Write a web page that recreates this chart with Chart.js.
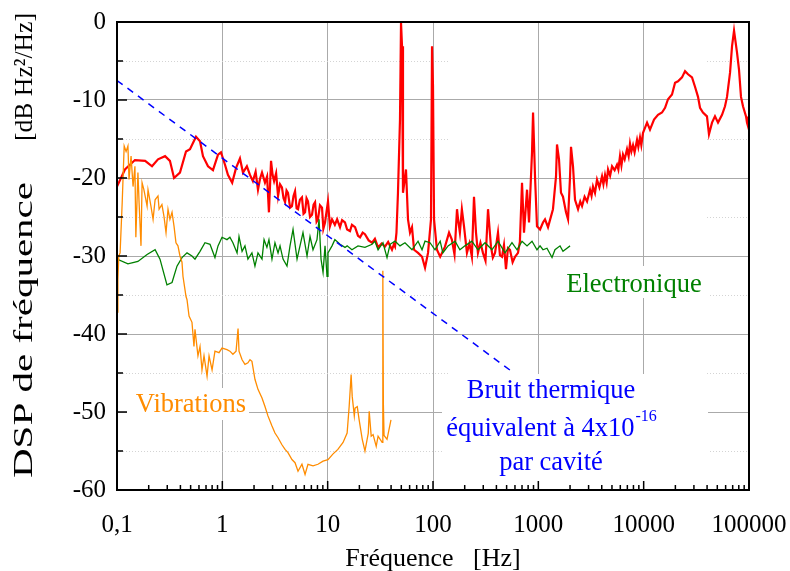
<!DOCTYPE html>
<html>
<head>
<meta charset="utf-8">
<script src="https://cdn.jsdelivr.net/npm/chart.js@4.4.0/dist/chart.umd.min.js"></script>
<style>
  html, body { margin: 0; padding: 0; background: #fff; }
  #chart { display: block; }
</style>
</head>
<body>
<canvas id="chart" width="790" height="571"></canvas>
<script>
// frequency noise of the laser (red)
var totalFreq = [0.1, 0.119, 0.148, 0.185, 0.215, 0.245, 0.286, 0.318, 0.348, 0.396, 0.452, 0.493, 0.562, 0.614, 0.655, 0.731, 0.815, 0.91, 0.971,
  1.06, 1.13, 1.24, 1.35, 1.47, 1.57, 1.71, 1.83, 1.95, 2.07, 2.18, 2.28, 2.38, 2.54, 2.66, 2.77, 2.9, 3.0, 3.1, 3.24, 3.38, 3.53, 3.68, 3.81, 3.94, 4.07, 4.2, 4.4, 4.58, 4.74, 4.9, 5.07, 5.23, 5.45, 5.7, 5.9, 6.1, 6.3, 6.5, 6.8, 7.1, 7.35, 7.59, 7.85, 8.09, 8.45, 8.84, 9.1, 9.44,
  10.07, 10.5, 11, 11.7, 12.3, 13.1, 13.7, 14.6, 15.3, 16.3, 17, 18.2, 19.4, 20.3, 21.5, 22.6, 24.5, 26.4, 28.1, 30.1, 32.5, 35, 37.5, 40.8, 42.5, 43.6, 45, 46.5, 48.6, 49.7, 50.8, 51.9, 55.4, 57.9, 60.5, 63.2, 66.1, 72.1, 78.7, 84, 89.7, 95.7, 97.9,
  100, 102.3, 109, 117, 130, 142, 151, 160, 169, 173, 180, 188, 197, 210, 222, 234, 245, 256, 267, 282, 298, 315, 333, 355, 370, 388, 414, 432, 452, 472, 493, 515, 538, 570, 601, 641, 668, 700, 731, 781, 816, 871, 891, 930, 971,
  1038, 1107, 1157, 1236, 1377, 1472, 1504, 1571, 1641, 1714, 1832, 1914, 2000, 2043, 2134, 2230, 2382, 2500, 2600, 2750, 2900, 3097, 3200, 3304, 3450, 3606, 3800, 4024, 4150, 4297, 4450, 4590, 4800, 5010, 5300, 5585, 5750, 5960, 6150, 6365, 6600, 6950, 7200, 7417, 7650, 7925, 8200, 8650, 8900, 9230, 9500, 9860,
  10770, 11480, 12540, 13680, 14930, 15960, 17030, 18580, 19860, 21180, 23120, 24710, 26370, 28780, 30720, 32810, 34270, 36560, 39900, 41690, 44560, 47540, 50800, 55460, 59190, 61830, 66070, 69020, 72100, 76910, 80370, 83950, 87700, 93700, 95700, 100000];
var totalDsp = [-21.1, -18.9, -17.7, -17.8, -18.5, -17.6, -17.2, -17.8, -20.0, -19.3, -16.6, -16.3, -14.7, -15.3, -17.2, -18.5, -19.0, -17.0, -16.7,
  -18.3, -19.6, -20.6, -18.7, -17.5, -19.3, -18.5, -19.6, -20.4, -19.2, -21.5, -20.1, -19.3, -20.6, -19.8, -24.4, -17.8, -19.6, -20.4, -19.4, -22.3, -20.8, -21.2, -22.6, -23.1, -21.6, -21.9, -23.8, -23.6, -22.3, -21.7, -23.9, -24.0, -22.8, -22.5, -24.6, -24.4, -22.6, -23.0, -25.0, -24.7, -23.4, -23.1, -25.6, -25.3, -23.5, -23.8, -26.5, -25.7,
  -23.0, -26.2, -25.3, -26.0, -25.3, -26.3, -25.4, -25.7, -26.6, -26.8, -26.0, -26.3, -27.4, -27.6, -27.0, -27.2, -28.0, -28.3, -27.8, -28.9, -28.4, -28.8, -28.2, -29.2, -28.5, -28.8, -27.0, -21.9, -12.5, -0.1, -3.1, -21.9, -18.9, -25.3, -27.0, -26.3, -29.2, -29.6, -30.1, -31.5, -29.6, -25.3, -3.1,
  -8.2, -25.3, -29.2, -30.1, -28.8, -27.0, -27.9, -29.8, -24.0, -25.3, -27.0, -24.0, -26.2, -29.6, -28.4, -30.1, -22.4, -27.0, -29.6, -28.3, -29.6, -30.6, -24.0, -28.8, -30.2, -29.6, -27.0, -29.9, -30.1, -28.6, -31.7, -29.0, -29.2, -30.8, -30.1, -29.6, -28.2, -20.6, -27.0, -21.5, -25.7, -16.7, -11.6, -19.8, -26.2,
  -26.6, -25.7, -25.3, -26.3, -24.0, -19.8, -15.7, -17.6, -21.9, -22.4, -24.4, -25.3, -19.8, -16.0, -18.5, -22.8, -24.0, -23.0, -23.6, -22.4, -23.0, -21.5, -22.3, -21.1, -21.9, -20.2, -21.2, -19.8, -20.8, -19.6, -20.6, -18.9, -19.7, -18.5, -19.0, -18.3, -18.9, -17.2, -18.4, -17.0, -17.6, -16.3, -17.2, -15.6, -16.6, -15.8, -16.7, -15.1, -16.0, -14.8, -15.8, -14.2,
  -12.9, -13.8, -12.5, -11.9, -11.6, -11.0, -9.9, -9.3, -7.8, -7.6, -7.1, -6.3, -6.7, -7.1, -8.3, -9.6, -11.0, -11.6, -12.1, -14.4, -12.9, -12.1, -12.9, -11.9, -10.8, -9.6, -6.5, -3.1, -1.1, -3.9, -6.1, -9.6, -10.8, -12.1, -12.9, -13.8];

// electronic noise floor (green)
var elecFreq = [0.1, 0.127, 0.158, 0.193, 0.23, 0.256, 0.298, 0.333, 0.371, 0.414, 0.462, 0.515, 0.55, 0.614, 0.684, 0.764, 0.851, 0.91, 0.993,
  1.107, 1.18, 1.26, 1.38, 1.44, 1.54, 1.64, 1.75, 1.91, 2.04, 2.18, 2.38, 2.49, 2.65, 2.77, 2.96, 3.16, 3.38, 3.53, 3.77, 4.11, 4.39, 4.69, 5.12, 5.46, 5.83, 6.37, 6.8, 7.26, 7.92, 8.28, 8.65, 9.04, 9.44, 9.86,
  10.07, 11, 11.7, 13.1, 14.6, 15.3, 17, 19.4, 22.6, 26.4, 28.1, 30.1, 33.5, 36.6, 39.1, 43.6, 48.6, 54.2, 63.2, 72.1, 78.7, 84, 93.7,
  104.5, 117, 124, 139, 162, 180, 201, 234, 267, 312, 363, 414, 483, 562, 628, 700, 781, 871, 971, 1038, 1107, 1208, 1349, 1439, 1607, 1714, 1871, 2000];
var elecDsp = [-30.4, -31.0, -30.7, -29.8, -29.2, -30.4, -33.7, -33.4, -31.3, -30.2, -29.6, -30.0, -30.4, -29.4, -28.3, -28.5, -30.2, -28.7, -27.6,
  -27.9, -27.6, -28.3, -29.6, -27.5, -29.4, -28.7, -30.4, -29.6, -31.3, -29.6, -30.4, -27.9, -28.9, -27.9, -30.4, -28.3, -29.6, -28.7, -30.4, -31.3, -28.7, -26.6, -30.4, -28.7, -27.0, -30.0, -27.5, -29.2, -27.9, -25.3, -30.4, -32.1, -28.7, -32.6,
  -29.6, -28.7, -27.9, -28.5, -28.9, -28.7, -29.2, -28.7, -28.9, -28.5, -28.1, -29.2, -28.3, -30.2, -28.5, -28.1, -28.7, -28.3, -29.2, -28.1, -29.2, -28.1, -28.3,
  -29.2, -28.1, -29.6, -28.7, -28.1, -29.2, -28.7, -28.1, -29.2, -28.3, -29.2, -28.1, -29.6, -28.3, -29.2, -28.1, -28.7, -28.1, -29.2, -28.7, -29.2, -29.0, -30.2, -29.2, -28.7, -29.4, -29.0, -28.7];

// seismic / acoustic vibrations (orange)
var vibFreq = [0.1, 0.102, 0.104, 0.107, 0.112, 0.117, 0.122, 0.127, 0.13, 0.136, 0.142, 0.148, 0.151, 0.158, 0.162, 0.169, 0.173, 0.18, 0.193, 0.197,
  0.21, 0.22, 0.23, 0.245, 0.251, 0.267, 0.279, 0.292, 0.305, 0.318, 0.333, 0.348, 0.363, 0.379, 0.396, 0.414, 0.423, 0.452, 0.462, 0.483, 0.515, 0.538, 0.55, 0.587,
  0.614, 0.641, 0.67, 0.716, 0.748, 0.799, 0.851, 0.93, 0.993, 1.107, 1.18, 1.26, 1.35, 1.41, 1.44, 1.54, 1.64, 1.75, 1.83, 1.91, 2.04, 2.18, 2.38, 2.54, 2.71, 2.96,
  3.16, 3.38, 3.68, 3.94, 4.2, 4.58, 4.9, 5.23, 5.7, 6.1, 6.5, 7.26, 8.09, 9.04, 10.07, 11.2, 12.5, 14, 15.3, 16, 16.7, 17.1, 17.9, 18.2, 19.1, 19.9,
  21.3, 22.6, 24.3, 24.8, 25.9, 27, 28.9, 30.1, 32.9, 33.3, 33.5, 33.8, 34.3, 36.6, 39.9];
var vibDsp = [-37.2, -33.0, -30.0, -29.6, -23.2, -15.9, -16.6, -15.9, -20.2, -17.2, -21.1, -18.5, -27.6, -19.3, -23.1, -28.7, -20.6, -21.5, -23.6, -21.5,
  -23.6, -25.3, -22.8, -22.3, -24.0, -23.4, -24.9, -27.0, -24.0, -25.3, -24.4, -26.2, -28.3, -28.7, -30.0, -30.8, -32.6, -35.2, -35.6, -37.7, -38.5, -41.6, -39.4, -42.8,
  -41.6, -44.6, -42.8, -45.4, -42.8, -44.6, -42.2, -42.4, -41.8, -42.0, -42.2, -42.6, -42.2, -39.3, -42.2, -43.3, -43.9, -43.7, -43.3, -43.5, -45.8, -47.1, -48.2, -49.3, -50.5, -51.8,
  -52.7, -53.3, -54.2, -54.8, -55.2, -56.1, -56.5, -57.6, -56.7, -58.0, -56.7, -56.9, -56.7, -56.3, -56.1, -55.4, -54.8, -53.9, -52.7, -49.3, -45.2, -48.0, -50.5, -49.5, -49.3, -51.0,
  -53.5, -55.0, -52.7, -49.9, -53.1, -52.9, -54.4, -53.1, -53.9, -50.0, -31.9, -49.0, -53.0, -53.5, -51.0];

// thermal noise limit, 4e-16 per cavity (blue dashes)
var thermFreq = [0.1, 560];
var thermDsp = [-7.5, -44.8];

var xTickValues = [0.1, 1, 10, 100, 1000, 10000, 100000];
var serif = "'Liberation Serif', 'Times New Roman', serif";

function toPoints(freqs, dsps) {
  return freqs.map(function(f, i) {
    return {x: f, y: dsps[i]};
  });
}

function makeLine(label, freqs, dsps, color, width, dash) {
  return {
    label: label,
    data: toPoints(freqs, dsps),
    borderColor: color,
    borderWidth: width,
    borderDash: dash || [],
    pointRadius: 0,
    tension: 0,
    fill: false,
  };
}

function centerText(ctx, text, x, y, font, color) {
  ctx.font = font;
  ctx.fillStyle = color;
  ctx.textAlign = 'center';
  ctx.textBaseline = 'alphabetic';
  ctx.fillText(text, x, y);
}

// rotated text stretched so it runs from screen y "from" up to y "to"
function verticalText(ctx, text, x, from, to, size) {
  ctx.save();
  ctx.font = size + 'px ' + serif;
  let w = ctx.measureText(text).width;
  ctx.translate(x, (from + to) / 2);
  ctx.rotate(-Math.PI / 2);
  ctx.scale((from - to) / w, 1);
  ctx.fillStyle = '#000';
  ctx.textAlign = 'center';
  ctx.textBaseline = 'alphabetic';
  ctx.fillText(text, 0, 0);
  ctx.restore();
}

var decorations = {
  id: 'decorations',
  beforeDatasetsDraw: function(chart) {
    let ctx = chart.ctx;
    let area = chart.chartArea;
    let ys = chart.scales.y;
    ctx.save();

    // faint dotted minor grid, only where the original shows it
    ctx.strokeStyle = '#d4d4d4';
    ctx.lineWidth = 1;
    ctx.setLineDash([1, 2]);
    ctx.beginPath();
    for (let v = -55; v < 0; v += 10) {
      let py = Math.round(ys.getPixelForValue(v)) + 0.5;
      ctx.moveTo(area.left, py);
      ctx.lineTo(448, py);
      ctx.moveTo(707, py);
      ctx.lineTo(area.right, py);
    }
    ctx.stroke();
    ctx.setLineDash([]);

    ctx.fillStyle = '#fff';
    ctx.fillRect(127, 388, 122, 32);   // behind "Vibrations"
    ctx.fillRect(562, 266, 146, 32);   // behind "Electronique"
    ctx.fillRect(442, 374, 266, 110);  // behind the thermal noise note
    ctx.restore();
  },
  afterDatasetsDraw: function(chart) {
    let ctx = chart.ctx;
    let area = chart.chartArea;
    let xs = chart.scales.x;
    let ys = chart.scales.y;
    ctx.save();

    // inward ticks
    ctx.strokeStyle = '#000';
    ctx.lineWidth = 1.5;
    ctx.beginPath();
    for (let e = -1; e <= 4; e++) {
      for (let k = 1; k <= 9; k++) {
        let px = xs.getPixelForValue(k * Math.pow(10, e));
        let len = k === 1 ? 9 : 5;
        ctx.moveTo(px, area.bottom);
        ctx.lineTo(px, area.bottom - len);
      }
    }
    for (let v = -60; v <= 0; v += 5) {
      let py = ys.getPixelForValue(v);
      let len = v % 10 === 0 ? 10 : 6;
      ctx.moveTo(area.left, py);
      ctx.lineTo(area.left + len, py);
    }
    ctx.stroke();

    // frame
    ctx.lineWidth = 2;
    ctx.strokeRect(area.left, area.top, area.right - area.left, area.bottom - area.top);

    // axis titles
    centerText(ctx, 'Fréquence   [Hz]', (area.left + area.right) / 2, 566, '26px ' + serif, '#000');
    verticalText(ctx, 'DSP de fréquence', 32, 478, 182, 27);
    verticalText(ctx, '[dB Hz²/Hz]', 32, 141, 13, 26);

    // curve labels
    let labelFont = '26.5px ' + serif;
    centerText(ctx, 'Electronique', 634, 292, labelFont, '#008000');
    centerText(ctx, 'Vibrations', 191, 412, labelFont, '#ff8c00');
    centerText(ctx, 'Bruit thermique', 551, 398, labelFont, '#0000ff');
    centerText(ctx, 'par cavité', 551, 470, labelFont, '#0000ff');

    let mainText = 'équivalent à 4x10';
    ctx.font = labelFont;
    let w1 = ctx.measureText(mainText).width;
    ctx.font = '16px ' + serif;
    let w2 = ctx.measureText('-16').width;
    let x0 = 551 - (w1 + w2) / 2;
    ctx.textAlign = 'left';
    ctx.fillStyle = '#0000ff';
    ctx.font = labelFont;
    ctx.fillText(mainText, x0, 436);
    ctx.font = '16px ' + serif;
    ctx.fillText('-16', x0 + w1 + 1, 421);

    ctx.restore();
  },
};

let chartCanvas = document.getElementById('chart').getContext('2d');

new Chart(chartCanvas, {
  type: 'line',
  data: {
    datasets: [
      makeLine('Bruit thermique', thermFreq, thermDsp, '#0000ff', 1.5, [7, 6]),
      makeLine('Vibrations', vibFreq, vibDsp, '#ff8c00', 1.3),
      makeLine('Electronique', elecFreq, elecDsp, '#008000', 1.3),
      makeLine('Total', totalFreq, totalDsp, '#ff0000', 2.2),
    ],
  },
  options: {
    responsive: false,
    animation: false,
    devicePixelRatio: 1,
    layout: {padding: {top: 22, right: 41, bottom: 0, left: 0}},
    plugins: {
      legend: {display: false},
      tooltip: {enabled: false},
    },
    scales: {
      x: {
        type: 'logarithmic',
        min: 0.1,
        max: 100000,
        afterBuildTicks: function(scale) {
          scale.ticks = xTickValues.map(function(v) { return {value: v}; });
        },
        afterFit: function(scale) {
          scale.height = 81;
          scale.paddingLeft = 0;
          scale.paddingRight = 0;
        },
        border: {display: false},
        grid: {color: '#aaaaaa', lineWidth: 1, drawTicks: false},
        ticks: {
          autoSkip: false,
          maxRotation: 0,
          padding: 20,
          color: '#000',
          font: {family: serif, size: 25},
          callback: function(value) {
            return value === 0.1 ? '0,1' : String(value);
          },
        },
      },
      y: {
        min: -60,
        max: 0,
        afterFit: function(scale) {
          scale.width = 117;
          scale.paddingTop = 0;
          scale.paddingBottom = 0;
        },
        border: {display: false},
        grid: {color: '#aaaaaa', lineWidth: 1, drawTicks: false},
        ticks: {
          stepSize: 10,
          padding: 11,
          color: '#000',
          font: {family: serif, size: 25},
        },
      },
    },
  },
  plugins: [decorations],
});
</script>
</body>
</html>
